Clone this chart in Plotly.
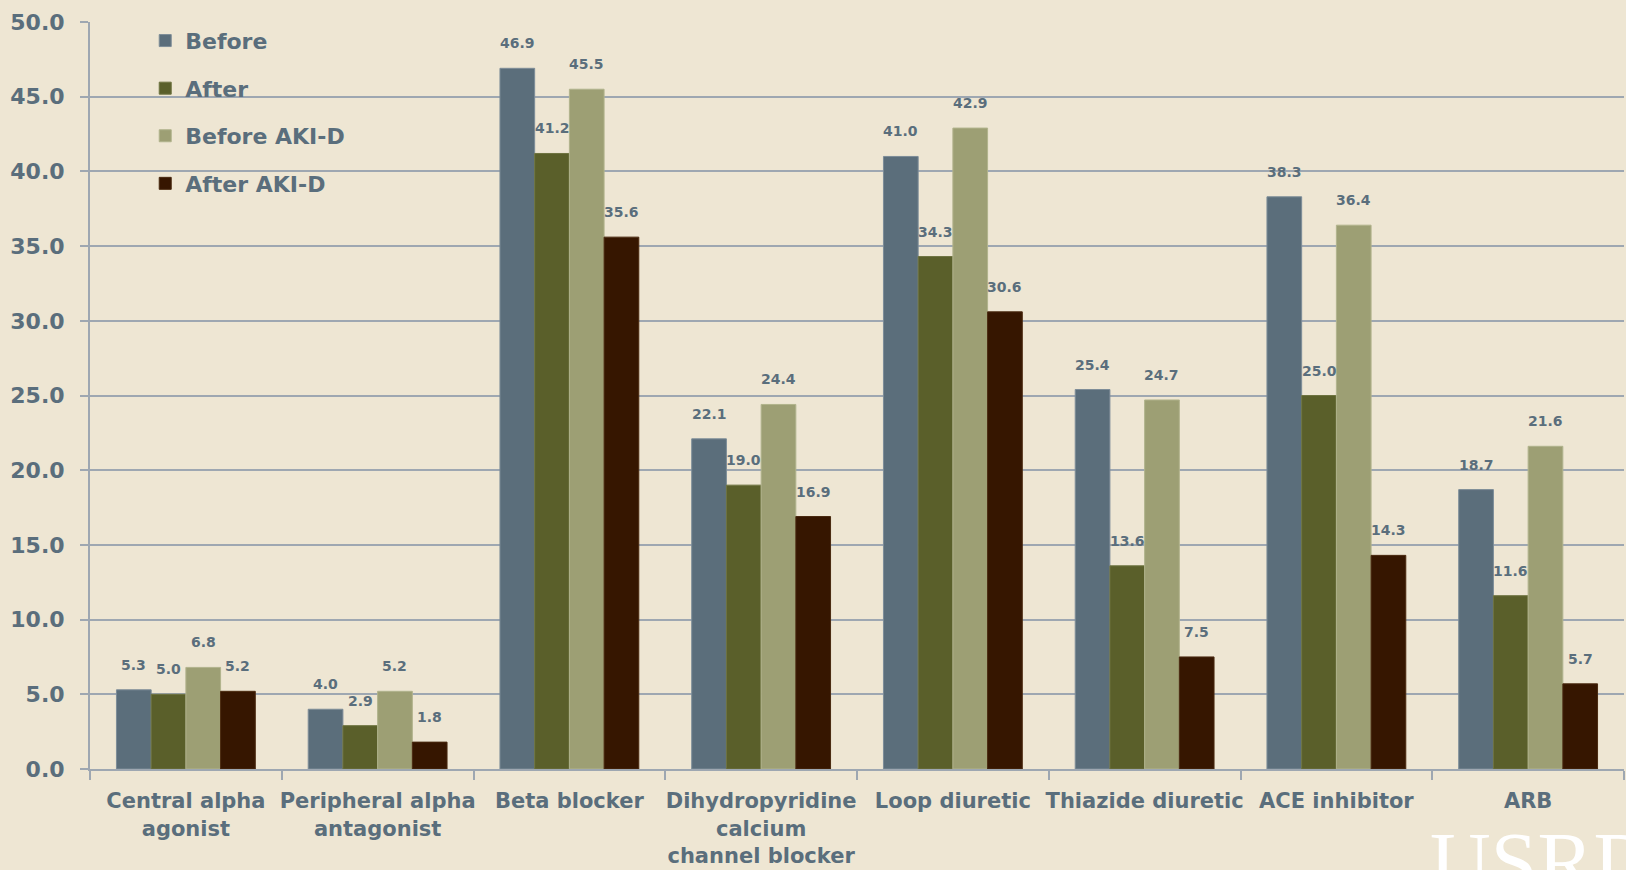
import plotly.graph_objects as go

# Share of patients using each antihypertensive class (%)
categories = [
    "Central alpha<br>agonist",
    "Peripheral alpha<br>antagonist",
    "Beta blocker",
    "Dihydropyridine<br>calcium<br>channel blocker",
    "Loop diuretic",
    "Thiazide diuretic",
    "ACE inhibitor",
    "ARB",
]
series_names = ["Before", "After", "Before AKI-D", "After AKI-D"]
before = [5.3, 4.0, 46.9, 22.1, 41.0, 25.4, 38.3, 18.7]
after = [5.0, 2.9, 41.2, 19.0, 34.3, 13.6, 25.0, 11.6]
before_akid = [6.8, 5.2, 45.5, 24.4, 42.9, 24.7, 36.4, 21.6]
after_akid = [5.2, 1.8, 35.6, 16.9, 30.6, 7.5, 14.3, 5.7]
y_ticks = [0, 5, 10, 15, 20, 25, 30, 35, 40, 45, 50]

series_values = [before, after, before_akid, after_akid]
colors = ["#5b6e7b", "#5a5f2a", "#9d9f74", "#361600"]
edge_colors = ["#7d8d98", "#6e7340", "#b1b38c", "#4a2a10"]

TEXT = "#5a6e7c"
FONT = "DejaVu Sans"
GRID = "#9ea7b1"

bar_w = 0.181
x_idx = list(range(len(categories)))

fig = go.Figure()
for k, (name, vals) in enumerate(zip(series_names, series_values)):
    offset = (k - 2) * bar_w
    fig.add_trace(go.Bar(
        x=x_idx, y=vals, name=name,
        width=bar_w, offset=offset,
        marker=dict(color=colors[k], line=dict(color=edge_colors[k], width=1)),
        legendgroup=name,
    ))
    # value labels above each bar
    for i, v in enumerate(vals):
        fig.add_annotation(
            x=i + offset + bar_w / 2, y=v, xref="x", yref="y",
            text=f"<b>{v:.1f}</b>", showarrow=False,
            yanchor="bottom", yshift=15,
            font=dict(family=FONT, size=14, color=TEXT),
        )

# watermark logo text, bottom right (runs off the page edge)
fig.add_annotation(
    x=0.872, y=-0.06, xref="paper", yref="paper", text="USRDS",
    showarrow=False, xanchor="left", yanchor="top",
    font=dict(family="Liberation Serif", size=84, color="#ffffff"),
)

fig.update_layout(
    width=1626, height=870,
    margin=dict(l=90, r=2, t=22, b=101),
    paper_bgcolor="#eee6d3",
    plot_bgcolor="rgba(0,0,0,0)",
    barmode="overlay",
    showlegend=True,
    legend=dict(
        x=0.036, y=1.003, xanchor="left", yanchor="top",
        bgcolor="rgba(0,0,0,0)",
        font=dict(family=FONT, size=22, color=TEXT, weight="bold"),
        tracegroupgap=16, traceorder="grouped",
    ),
    xaxis=dict(
        range=[-0.5, 7.5],
        tickmode="array", tickvals=x_idx, ticktext=[f"<b>{c}</b>" for c in categories],
        ticks="", showgrid=False, zeroline=False,
        showline=True, linecolor=GRID, linewidth=2,
        tickfont=dict(family=FONT, size=21, color=TEXT),
        ticklabelstandoff=12,
        minor=dict(tickmode="linear", tick0=-0.5, dtick=1, ticks="outside",
                   ticklen=9, tickwidth=2, tickcolor=GRID, showgrid=False),
    ),
    yaxis=dict(
        range=[0, 50], tickmode="array", tickvals=y_ticks,
        ticktext=[f"<b>{t:.1f}</b>" for t in y_ticks],
        ticks="outside", ticklen=8, tickwidth=2, tickcolor=GRID,
        showgrid=True, gridcolor=GRID, gridwidth=2,
        zeroline=False, showline=True, linecolor=GRID, linewidth=2,
        tickfont=dict(family=FONT, size=22, color=TEXT),
        ticklabelstandoff=11,
    ),
)

fig.write_html("out.html")
